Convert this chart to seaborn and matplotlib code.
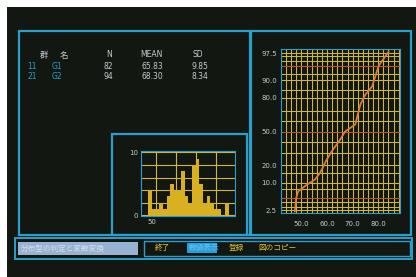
from statistics import NormalDist
import matplotlib
matplotlib.use("Agg")
import matplotlib.pyplot as plt
from matplotlib.patches import Rectangle
import seaborn as sns

# summary table (top-left panel)
group_codes = ["11", "21"]
group_names = ["G1", "G2"]
n_obs = [82, 94]
means = [65.83, 68.30]
sds = [9.85, 8.34]

# histogram (bin edges and counts)
hist_bins = [48, 50, 52, 54, 56, 58, 60, 62, 64, 66, 68, 70, 72, 74, 76, 78,
             80, 82, 84, 86, 88, 90, 92]
hist_counts = [4, 1, 1, 2, 1, 3, 5, 4, 4, 7, 3, 2, 8, 9, 5, 2, 3, 2, 1, 1, 0, 2]

# normal probability plot
prob_x = [47.4, 48.0, 48.7, 52.0, 55.2, 57.2, 59.8, 61.8, 65.1, 67.0, 71.0,
          73.0, 74.9, 77.6, 80.2, 82.8, 84.1]
prob_pct = [2.3, 5.0, 6.8, 9.2, 11.5, 15.0, 24.0, 31.0, 42.0, 50.0, 57.0,
            75.0, 82.0, 87.0, 95.0, 97.0, 97.7]
prob_ticks = [2.5, 10.0, 20.0, 50.0, 80.0, 90.0, 97.5]
prob_grid = [2.5, 3, 4, 5, 7.5, 10, 15, 20, 30, 40, 50, 60, 70, 80, 85, 90,
             92.5, 95, 96, 97, 97.5]
x_ticks = [50.0, 60.0, 70.0, 80.0]

# menu
status_label = "分布型の判定と変数変換"
menu_items = ["終了", "数値表示", "登録", "図のコピー"]

sns.set_style("dark")
plt.rcParams["font.family"] = ["DejaVu Sans", "Noto Sans CJK JP"]

BG = "#131712"
CYAN = "#2b9fcc"
YELLOW = "#cdb83c"
RED = "#c0542c"
TXT = "#c4cccc"
W, H = 416, 277

fig = plt.figure(figsize=(4.16, 2.77), dpi=100, facecolor="white")


def fx(px):
    return px / W


def fy(py):
    return 1 - py / H


def box(x0, y0, x1, y1, z=2, **kw):
    fig.add_artist(Rectangle((fx(x0), fy(y1)), (x1 - x0) / W, (y1 - y0) / H,
                             transform=fig.transFigure, zorder=z, **kw))


def label(x, y, s, **kw):
    kw.setdefault("va", "center")
    fig.text(fx(x), fy(y), s, zorder=4, **kw)


# screen background and panels
box(7, 7, 420, 280, z=-10, facecolor=BG, edgecolor="none")
box(19, 31, 250, 235, facecolor="none", edgecolor=CYAN, lw=1.6)
box(251, 31, 411, 235, facecolor="none", edgecolor=CYAN, lw=1.6)
box(112, 134, 247, 235, facecolor="none", edgecolor=CYAN, lw=1.6)

# table
label(40, 58, "群", color=TXT, fontsize=6, va="baseline",
      family=["Noto Sans CJK JP"])
label(60, 58, "名", color=TXT, fontsize=6, va="baseline",
      family=["Noto Sans CJK JP"])
label(112, 55, "N", color=TXT, fontsize=5.5, ha="right")
label(151, 55, "MEAN", color=TXT, fontsize=5.5, ha="center")
label(198, 55, "SD", color=TXT, fontsize=5.5, ha="center")
for i in range(len(group_codes)):
    yy = 66 + i * 10.5
    label(27, yy, group_codes[i], color=CYAN, fontsize=5.5)
    label(52, yy, group_names[i], color=CYAN, fontsize=5.5)
    label(113, yy, f"{n_obs[i]}", color=TXT, fontsize=5.5, ha="right")
    label(163, yy, f"{means[i]:.2f}", color=TXT, fontsize=5.5, ha="right")
    label(208, yy, f"{sds[i]:.2f}", color=TXT, fontsize=5.5, ha="right")

# histogram
ax_h = fig.add_axes([fx(141), fy(216), (235 - 141) / W, (216 - 151) / H])
ax_h.set_facecolor(BG)
for v in [0, 2, 4, 6, 8, 10]:
    ax_h.axhline(v, color=YELLOW, lw=0.8, zorder=1)
for v in [52, 63, 74, 85]:
    ax_h.axvline(v, color=YELLOW, lw=0.8, zorder=1)
sns.histplot(x=hist_bins[:-1], weights=hist_counts, bins=hist_bins,
             color="#d8b020", alpha=1, linewidth=0, ax=ax_h, zorder=3)
ax_h.set_xlim(44, 95.5)
ax_h.set_ylim(-0.1, 10.2)
ax_h.set_xticks([50])
ax_h.set_xticklabels(["50"])
ax_h.set_yticks([0, 10])
ax_h.set_yticklabels(["0", "10"])
ax_h.set_xlabel("")
ax_h.set_ylabel("")
ax_h.tick_params(length=0, labelsize=5, colors=TXT, pad=2)
ax_h.grid(False)
for s in ax_h.spines.values():
    s.set_color(CYAN)
    s.set_linewidth(0.8)

# normal probability plot
nd = NormalDist()
prob_z = [nd.inv_cdf(p / 100) for p in prob_pct]
ax_p = fig.add_axes([fx(281), fy(213), (400 - 281) / W, (213 - 49) / H])
ax_p.set_facecolor(BG)
for v in range(42, 89, 2):
    ax_p.axvline(v, color=YELLOW, lw=0.75, zorder=1)
for p in prob_grid:
    ax_p.axhline(nd.inv_cdf(p / 100), color=RED if p in (5, 50, 95) else YELLOW,
                 lw=0.75, zorder=1)
sns.lineplot(x=prob_x, y=prob_z, sort=False, color="#e37b30", lw=1.3,
             ax=ax_p, zorder=3)
ax_p.set_xlim(42, 88.5)
ax_p.set_ylim(-2.03, 2.06)
ax_p.set_xticks(x_ticks)
ax_p.set_xticklabels([f"{v:.1f}" for v in x_ticks])
ax_p.set_yticks([nd.inv_cdf(p / 100) for p in prob_ticks])
ax_p.set_yticklabels([f"{p:.1f}" for p in prob_ticks])
ax_p.tick_params(axis="y", length=0, labelsize=5, colors=TXT, pad=3)
ax_p.tick_params(axis="x", length=0, labelsize=5, colors=TXT, pad=6)
ax_p.grid(False)
for s in ax_p.spines.values():
    s.set_color(CYAN)
    s.set_linewidth(0.8)

# bottom menu bar
box(15, 238, 412, 259, facecolor="none", edgecolor=CYAN, lw=1.4)
box(18, 242, 138, 255, facecolor="#98b2d2", edgecolor="none")
label(21, 248.5, status_label, color="#d4def0", fontsize=5.5,
      family=["Noto Sans CJK JP", "DejaVu Sans"])
box(144, 241, 410, 256, facecolor=BG, edgecolor=CYAN, lw=1.0)
box(187, 243, 217, 253, facecolor="#2a9ed8", edgecolor="none")
menu_x = [155, 189, 229, 258]
for xx, item in zip(menu_x, menu_items):
    col = "#5cc4f0" if item == "数値表示" else "#e0c23c"
    label(xx, 248, item, color=col, fontsize=5.5,
          family=["Noto Sans CJK JP", "DejaVu Sans"])

fig.savefig("out.png", dpi=100, facecolor="white")
